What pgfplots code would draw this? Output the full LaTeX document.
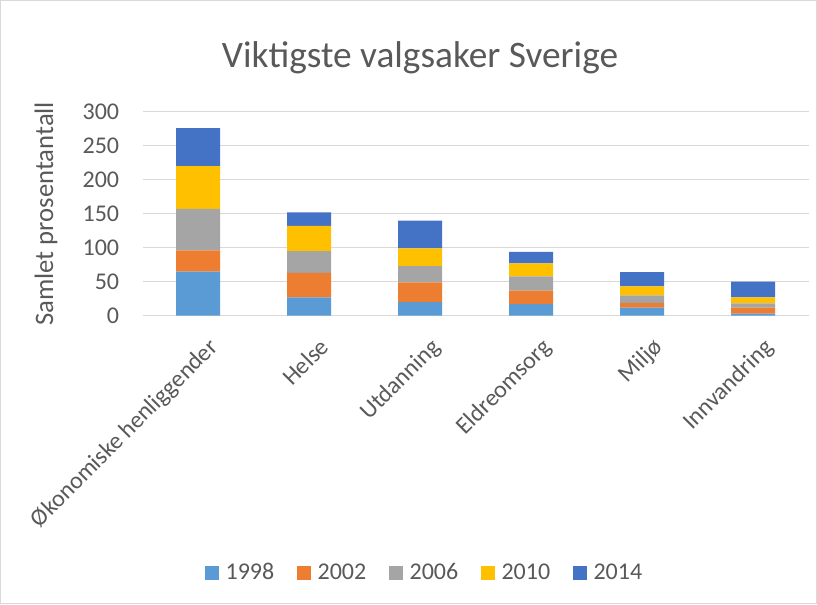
\documentclass[border=0pt]{standalone}
\usepackage{fontspec}
\setmainfont{Carlito}
\usepackage{pgfplots}
\pgfplotsset{compat=1.18}

\definecolor{c1998}{HTML}{5B9BD5}
\definecolor{c2002}{HTML}{ED7D31}
\definecolor{c2006}{HTML}{A5A5A5}
\definecolor{c2010}{HTML}{FFC000}
\definecolor{c2014}{HTML}{4472C4}
\definecolor{txt}{HTML}{595959}
\definecolor{grd}{HTML}{D9D9D9}

\begin{document}
\begin{tikzpicture}
\draw[grd, line width=0.75pt, fill=white] (0.375pt,0.375pt) rectangle (612.375pt,452.625pt);
\useasboundingbox (0pt,0pt) rectangle (612.75pt,453pt);
\node[txt, font=\fontsize{28}{32}\selectfont] at (315pt,410pt) {Viktigste valgsaker Sverige};
\begin{axis}[
    at={(106.9pt,216.2pt)}, anchor=south west,
    scale only axis,
    width=499.5pt, height=153pt,
    ybar stacked,
    bar width=33pt,
    xmin=-0.5, xmax=5.5,
    ymin=0, ymax=300,
    ytick={0,50,...,300},
    xtick={0,...,5},
    xticklabels={Økonomiske henliggender,Helse,Utdanning,Eldreomsorg,Miljø,Innvandring},
    x tick label style={rotate=45, anchor=north east, font=\fontsize{18}{20}\selectfont, text=txt, inner sep=2pt, xshift=-4pt, yshift=-14pt},
    y tick label style={font=\fontsize{18}{20}\selectfont, text=txt, xshift=-14pt},
    /pgf/number format/assume math mode=true,
    ylabel={Samlet prosentantall},
    ylabel style={font=\fontsize{20}{22}\selectfont, text=txt, yshift=12pt},
    ymajorgrids,
    grid style={grd, line width=1pt},
    axis line style={draw=none},
    major tick length=0pt,
    legend style={at={(0.424,-1.26)}, anchor=center, draw=none, legend columns=5,
        font=\fontsize{18}{20}\selectfont, text=txt,
        /tikz/every odd column/.append style={column sep=3pt},
        /tikz/every even column/.append style={column sep=15pt}},
    legend image code/.code={\fill[#1] (0pt,-5.25pt) rectangle (10.5pt,5.25pt);},
]
\addplot[fill=c1998, draw=none] coordinates {(0,65) (1,27) (2,20) (3,17) (4,12) (5,3)};
\addplot[fill=c2002, draw=none] coordinates {(0,31) (1,36) (2,29) (3,20) (4,7) (5,9)};
\addplot[fill=c2006, draw=none] coordinates {(0,61) (1,32) (2,24) (3,21) (4,11) (5,6)};
\addplot[fill=c2010, draw=none] coordinates {(0,63) (1,37) (2,26) (3,19) (4,13) (5,9)};
\addplot[fill=c2014, draw=none] coordinates {(0,56) (1,20) (2,41) (3,17) (4,21) (5,23)};
\legend{1998,2002,2006,2010,2014}
\end{axis}
\end{tikzpicture}
\end{document}
